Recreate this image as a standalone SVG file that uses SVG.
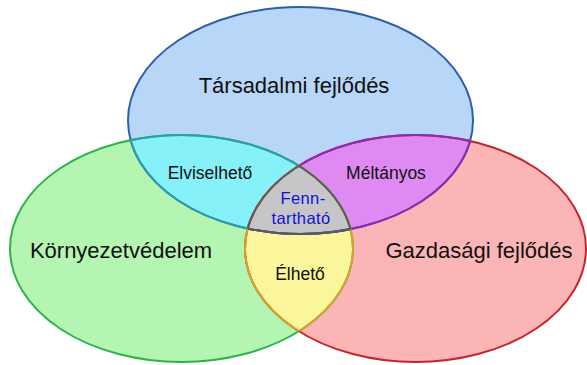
<svg xmlns="http://www.w3.org/2000/svg" width="587" height="365" viewBox="0 0 587 365">
<style>
.big{font-family:"Liberation Sans",Arial,sans-serif;font-size:22px;fill:#111;text-anchor:middle}
.mid{font-family:"Liberation Sans",Arial,sans-serif;font-size:17.5px;fill:#111;text-anchor:middle}
.core{font-family:"Liberation Sans",Arial,sans-serif;font-size:16.5px;fill:#1010d8;text-anchor:middle;letter-spacing:0.4px}
.ln{fill:none;stroke-width:2}
</style>
<defs>
<ellipse id="eB" cx="300.5" cy="120.5" rx="172.5" ry="113.5"/>
<ellipse id="eG" cx="181.5" cy="248.5" rx="171.5" ry="113.5"/>
<ellipse id="eR" cx="415.5" cy="248.5" rx="170.5" ry="113.5"/>
<clipPath id="cB"><use href="#eB"/></clipPath>
<clipPath id="cG"><use href="#eG"/></clipPath>
<clipPath id="cR"><use href="#eR"/></clipPath>
</defs>
<rect width="587" height="365" fill="#fff"/>
<g id="society"><use href="#eB" fill="#b8d6f8"/></g>
<g id="environment"><use href="#eG" fill="#b4f5b2"/></g>
<g id="economy"><use href="#eR" fill="#fbb5b6"/></g>
<g id="bearable" clip-path="url(#cB)"><use href="#eG" fill="#86f1f8"/></g>
<g id="equitable" clip-path="url(#cB)"><use href="#eR" fill="#de8af2"/></g>
<g id="viable" clip-path="url(#cG)"><use href="#eR" fill="#fbf59b"/></g>
<g id="sustainable" clip-path="url(#cB)"><g clip-path="url(#cG)"><use href="#eR" fill="#c6c6c8"/></g></g>
<g id="outlines">
<use href="#eB" class="ln" stroke="#2f5ea8"/>
<use href="#eG" class="ln" stroke="#2cb34a"/>
<use href="#eR" class="ln" stroke="#c4262c"/>
<g clip-path="url(#cG)"><use href="#eB" class="ln" stroke="#2a9fb0"/></g>
<g clip-path="url(#cB)"><use href="#eG" class="ln" stroke="#2a9fb0"/></g>
<g clip-path="url(#cR)"><use href="#eB" class="ln" stroke="#8a2ab8"/></g>
<g clip-path="url(#cB)"><use href="#eR" class="ln" stroke="#8a2ab8"/></g>
<g clip-path="url(#cR)"><use href="#eG" class="ln" stroke="#d4a52a"/></g>
<g clip-path="url(#cG)"><use href="#eR" class="ln" stroke="#d4a52a"/></g>
<g clip-path="url(#cR)"><g clip-path="url(#cG)"><use href="#eB" class="ln" stroke="#5a5a5a"/></g></g>
<g clip-path="url(#cB)"><g clip-path="url(#cR)"><use href="#eG" class="ln" stroke="#5a5a5a"/></g></g>
<g clip-path="url(#cB)"><g clip-path="url(#cG)"><use href="#eR" class="ln" stroke="#5a5a5a"/></g></g>
</g>
<g id="labels">
<text class="big" x="294" y="93">Társadalmi fejlődés</text>
<text class="big" x="121" y="258">Környezetvédelem</text>
<text class="big" x="479" y="258">Gazdasági fejlődés</text>
<text class="mid" x="210" y="179">Elviselhető</text>
<text class="mid" x="386" y="179">Méltányos</text>
<text class="core" x="303" y="204">Fenn-</text>
<text class="core" x="301" y="224">tartható</text>
<text class="mid" x="300" y="280">Élhető</text>
</g>
</svg>
